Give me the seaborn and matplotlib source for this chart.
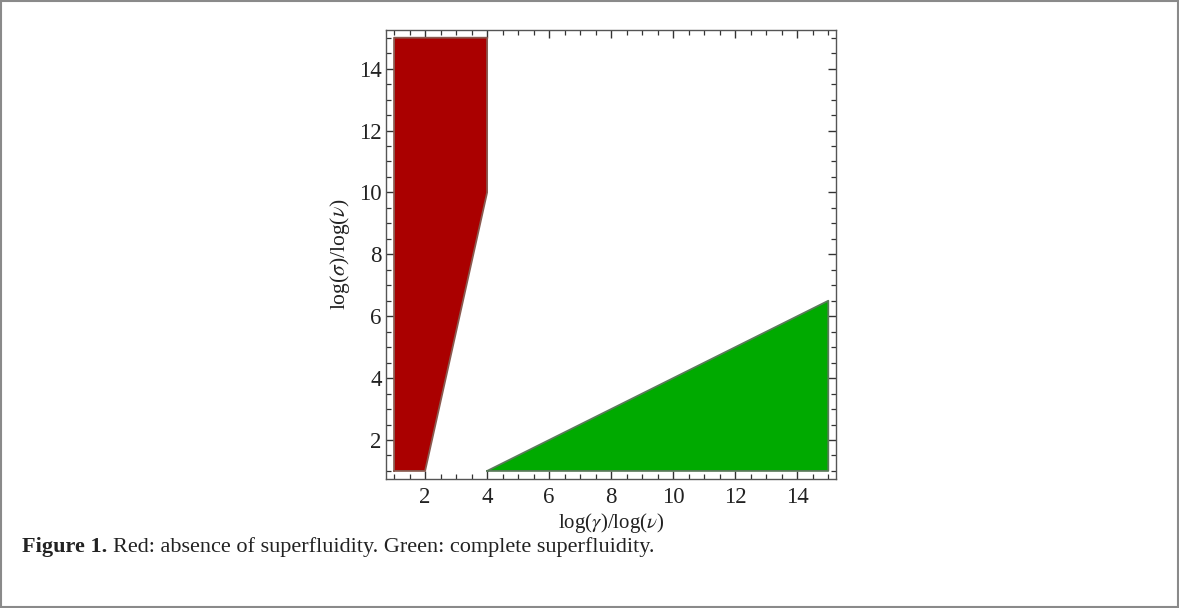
import matplotlib.pyplot as plt
import matplotlib.patches as mpatches
from matplotlib.ticker import MultipleLocator
import seaborn as sns
import pandas as pd

# polygon vertices (x = log(gamma)/log(nu), y = log(sigma)/log(nu))
red_x = [1, 2, 4, 4, 1]
red_y = [1, 1, 10, 15, 15]
green_x = [4, 15, 15]
green_y = [1, 1, 6.5]

x_label = r'log($\gamma$)/log($\nu$)'
y_label = r'log($\sigma$)/log($\nu$)'
caption_bold = 'Figure 1.'
caption_text = 'Red: absence of superfluidity. Green: complete superfluidity.'

sns.set_theme(style='ticks')
plt.rcParams['font.family'] = ['Liberation Serif', 'DejaVu Serif']
plt.rcParams['mathtext.fontset'] = 'stix'

fig = plt.figure(figsize=(11.79, 6.08), dpi=100)
ax = fig.add_axes([0.3274, 0.2122, 0.3817, 0.7385])

# closed outlines for seaborn
df_red = pd.DataFrame({'x': red_x + red_x[:1], 'y': red_y + red_y[:1]})
df_green = pd.DataFrame({'x': green_x + green_x[:1], 'y': green_y + green_y[:1]})

ax.fill(red_x, red_y, color='#aa0000', lw=0)
ax.fill(green_x, green_y, color='#00aa00', lw=0)
sns.lineplot(data=df_red, x='x', y='y', sort=False, estimator=None, ax=ax,
             color='#8a5a50', lw=1.3)
sns.lineplot(data=df_green, x='x', y='y', sort=False, estimator=None, ax=ax,
             color='#5a7a5a', lw=1.3)

ax.set_xlim(0.74, 15.25)
ax.set_ylim(0.74, 15.25)
ax.xaxis.set_major_locator(MultipleLocator(2))
ax.yaxis.set_major_locator(MultipleLocator(2))
ax.xaxis.set_minor_locator(MultipleLocator(0.5))
ax.yaxis.set_minor_locator(MultipleLocator(0.5))
ax.tick_params(which='both', direction='in', top=True, right=True, color='#333333',
               labelsize=16.5, labelcolor='#222222')
ax.tick_params(which='major', length=6, width=1)
ax.tick_params(which='minor', length=3.5, width=0.9)
ax.tick_params(axis='x', which='major', pad=6)
ax.tick_params(axis='y', which='major', pad=3)
for s in ax.spines.values():
    s.set_color('#555555')
    s.set_linewidth(1.0)

ax.set_xlabel(x_label, fontsize=15, color='#222222', labelpad=2)
ax.set_ylabel(y_label, fontsize=15.5, color='#222222', labelpad=5)

# caption: bold label followed by plain text
fs = 16
t1 = fig.text(0.019, 0.1, caption_bold, fontsize=fs, fontweight='bold', color='#222222',
              va='center')
r = fig.canvas.get_renderer()
bb = t1.get_window_extent(renderer=r)
x2 = (bb.x1 + 5) / fig.bbox.width
fig.text(x2, 0.1, caption_text, fontsize=fs, color='#222222', va='center')

fig.patches.append(mpatches.Rectangle((0.001, 0.001), 0.998, 0.997, transform=fig.transFigure,
                                      fill=False, edgecolor='#8a8a8a', lw=1.5))

fig.savefig('out.png', dpi=100)
